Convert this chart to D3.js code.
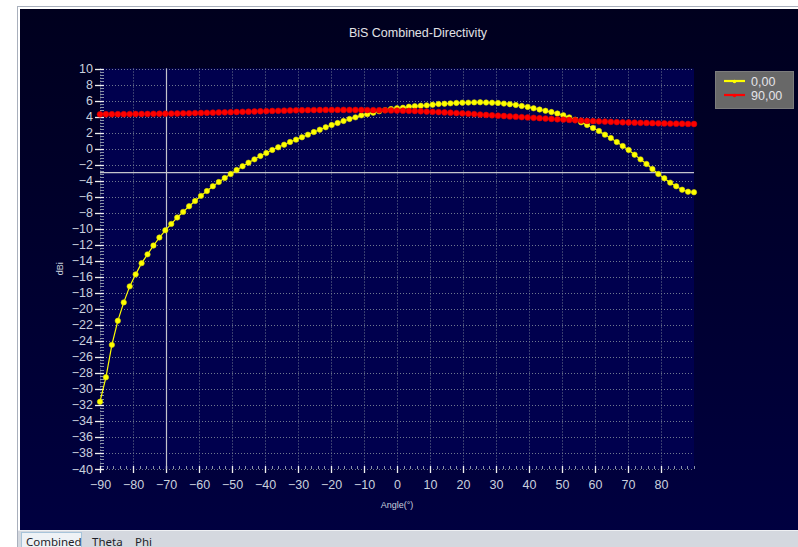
<!DOCTYPE html>
<html>
<head>
<meta charset="utf-8">
<script src="https://cdn.jsdelivr.net/npm/d3@7/dist/d3.min.js"></script>
<style>
  html, body { margin: 0; padding: 0; background: #ffffff; }
  svg { display: block; }
  text { font-family: "Liberation Sans", Arial, sans-serif; }
</style>
</head>
<body>
<svg id="chart" width="798" height="547"></svg>
<script>
// Sample angles (degrees) of the directivity cut
const angles = [-90, -88.2, -86.4, -84.6, -82.8, -81, -79.2, -77.4, -75.6, -73.8, -72, -70.2, -68.4, -66.6, -64.8, -63, -61.2, -59.4, -57.6, -55.8,
  -54, -52.2, -50.4, -48.6, -46.8, -45, -43.2, -41.4, -39.6, -37.8, -36, -34.2, -32.4, -30.6, -28.8, -27, -25.2, -23.4, -21.6, -19.8,
  -18, -16.2, -14.4, -12.6, -10.8, -9, -7.2, -5.4, -3.6, -1.8, 0, 1.8, 3.6, 5.4, 7.2, 9, 10.8, 12.6, 14.4, 16.2,
  18, 19.8, 21.6, 23.4, 25.2, 27, 28.8, 30.6, 32.4, 34.2, 36, 37.8, 39.6, 41.4, 43.2, 45, 46.8, 48.6, 50.4, 52.2,
  54, 55.8, 57.6, 59.4, 61.2, 63, 64.8, 66.6, 68.4, 70.2, 72, 73.8, 75.6, 77.4, 79.2, 81, 82.8, 84.6, 86.4, 88.2, 90];

// Phi = 0,00 cut (dBi)
const phi0 = [-31.6, -28.55, -24.5, -21.5, -19.2, -17.2, -15.7, -14.3, -13.2, -12.1, -11.1, -10.2, -9.4, -8.6, -7.9, -7.2, -6.55, -5.9, -5.3, -4.7,
  -4.17, -3.67, -3.17, -2.67, -2.2, -1.76, -1.34, -0.92, -0.55, -0.17, 0.16, 0.49, 0.83, 1.12, 1.41, 1.74, 2.07, 2.36, 2.66, 2.95,
  3.2, 3.45, 3.7, 3.9, 4.15, 4.3, 4.48, 4.66, 4.8, 4.94, 5.03, 5.1, 5.23, 5.3, 5.35, 5.4, 5.48, 5.57, 5.6, 5.65,
  5.7, 5.73, 5.74, 5.77, 5.78, 5.75, 5.73, 5.7, 5.62, 5.54, 5.45, 5.32, 5.2, 5.03, 4.88, 4.72, 4.56, 4.38, 4.16, 3.9,
  3.6, 3.28, 2.95, 2.57, 2.2, 1.74, 1.32, 0.82, 0.32, -0.17, -0.76, -1.34, -1.92, -2.55, -3.17, -3.7, -4.25, -4.7, -5.13, -5.38, -5.45];

// Phi = 90,00 cut (dBi)
const phi90 = [4.28, 4.29, 4.29, 4.30, 4.30, 4.31, 4.32, 4.32, 4.33, 4.34, 4.35, 4.36, 4.37, 4.38, 4.40, 4.41, 4.43, 4.45, 4.47, 4.49,
  4.51, 4.53, 4.55, 4.57, 4.59, 4.61, 4.63, 4.66, 4.68, 4.70, 4.72, 4.74, 4.76, 4.78, 4.79, 4.80, 4.81, 4.82, 4.83, 4.83,
  4.83, 4.83, 4.83, 4.82, 4.82, 4.81, 4.80, 4.79, 4.78, 4.76, 4.75, 4.73, 4.71, 4.69, 4.66, 4.62, 4.59, 4.56, 4.52, 4.48,
  4.44, 4.40, 4.36, 4.31, 4.25, 4.20, 4.16, 4.11, 4.07, 4.02, 3.98, 3.93, 3.89, 3.84, 3.80, 3.75, 3.71, 3.66, 3.62, 3.58,
  3.54, 3.50, 3.46, 3.43, 3.40, 3.37, 3.34, 3.31, 3.28, 3.26, 3.24, 3.22, 3.20, 3.18, 3.16, 3.14, 3.12, 3.11, 3.10, 3.08, 3.07];

const seriesNames = ["0,00", "90,00"];
const seriesColors = ["#ffff00", "#ff0000"];

const xTicks = [-90, -80, -70, -60, -50, -40, -30, -20, -10, 0, 10, 20, 30, 40, 50, 60, 70, 80];
const yTicks = [10, 8, 6, 4, 2, 0, -2, -4, -6, -8, -10, -12, -14, -16, -18, -20, -22, -24, -26, -28, -30, -32, -34, -36, -38, -40];

// Cursor cross-hair position
const cursorAngle = -70;
const cursorLevel = -3;

const title = "BiS Combined-Directivity";
const tabs = ["Combined", "Theta", "Phi"];

const svg = d3.select("#chart");
const W = 798, H = 547;

// ---- window frame ----
svg.append("rect").attr("x", 0).attr("y", 0).attr("width", W).attr("height", H).attr("fill", "#ffffff");
svg.append("line").attr("x1", 17.5).attr("x2", 17.5).attr("y1", 6).attr("y2", H).attr("stroke", "#a9b0bd");
svg.append("line").attr("x1", 17).attr("x2", W).attr("y1", 6.5).attr("y2", 6.5).attr("stroke", "#a9b0bd");

const defs = svg.append("defs");
const bg = defs.append("linearGradient").attr("id", "panelGrad").attr("x1", 0).attr("y1", 0).attr("x2", 0).attr("y2", 1);
bg.append("stop").attr("offset", "0%").attr("stop-color", "#00001e");
bg.append("stop").attr("offset", "100%").attr("stop-color", "#000040");

svg.append("rect").attr("x", 20).attr("y", 9).attr("width", W - 20).attr("height", 521).attr("fill", "url(#panelGrad)");

// tab strip
svg.append("rect").attr("x", 18).attr("y", 530).attr("width", W - 18).attr("height", 17).attr("fill", "#d4d8df");
svg.append("line").attr("x1", 18).attr("x2", W).attr("y1", 530.5).attr("y2", 530.5).attr("stroke", "#eef0f3");
svg.append("rect").attr("x", 21.5).attr("y", 532.5).attr("width", 60).attr("height", 16)
  .attr("fill", "#eef2f6").attr("stroke", "#a7c4da");
const tabX = [26, 92, 135];
tabs.forEach((t, i) => {
  svg.append("text").attr("x", tabX[i]).attr("y", 545.5).attr("font-size", 11.5)
    .attr("fill", "#1e1e28").style("font-family", "'Noto Sans', 'DejaVu Sans', sans-serif").text(t);
});

// ---- plot ----
const x = d3.scaleLinear().domain([-90, 90]).range([100, 694]);
const y = d3.scaleLinear().domain([-40, 10]).range([469, 68.5]);

svg.append("rect").attr("x", x(-90)).attr("y", y(10)).attr("width", x(90) - x(-90)).attr("height", y(-40) - y(10))
  .attr("fill", "#00004e");

const grid = svg.append("g").attr("stroke", "#6f7890").attr("stroke-width", 1).attr("stroke-dasharray", "1,2");
grid.selectAll("line.h").data(yTicks).join("line")
  .attr("x1", x(-90)).attr("x2", x(90))
  .attr("y1", d => Math.round(y(d)) + 0.5).attr("y2", d => Math.round(y(d)) + 0.5);
grid.selectAll("line.v").data(xTicks).join("line")
  .attr("y1", y(10)).attr("y2", y(-40))
  .attr("x1", d => Math.round(x(d)) + 0.5).attr("x2", d => Math.round(x(d)) + 0.5);

// y axis: major + minor ticks
const yAxis = d3.axisLeft(y).tickValues(yTicks).tickSize(0).tickPadding(7).tickFormat(d3.format("d"));
const gy = svg.append("g").attr("transform", `translate(${x(-90)},0)`).call(yAxis);
gy.select(".domain").remove();
gy.selectAll("text").attr("font-size", 12.5).attr("fill", "#c9d0de").style("font-family", "'Liberation Sans', Arial, sans-serif");
const yMinor = d3.range(-40, 10.001, 0.4);
svg.append("g").selectAll("line").data(yMinor).join("line")
  .attr("x1", x(-90)).attr("x2", x(-90) + 4)
  .attr("y1", d => Math.round(y(d)) + 0.5).attr("y2", d => Math.round(y(d)) + 0.5)
  .attr("stroke", "#8a93a8");
svg.append("g").selectAll("line").data(yTicks).join("line")
  .attr("x1", x(-90) - 5).attr("x2", x(-90) + 4)
  .attr("y1", d => Math.round(y(d)) + 0.5).attr("y2", d => Math.round(y(d)) + 0.5)
  .attr("stroke", "#f0f0f0").attr("stroke-width", 1.3);

// x axis: major + minor ticks
const xAxis = d3.axisBottom(x).tickValues(xTicks).tickSize(0).tickPadding(11).tickFormat(d3.format("d"));
const gx = svg.append("g").attr("transform", `translate(0,${y(-40)})`).call(xAxis);
gx.select(".domain").remove();
gx.selectAll("text").attr("font-size", 12.5).attr("fill", "#c9d0de").style("font-family", "'Liberation Sans', Arial, sans-serif");
const xMinor = d3.range(-90, 90.001, 2);
svg.append("g").selectAll("line").data(xMinor).join("line")
  .attr("y1", y(-40) - 3).attr("y2", y(-40))
  .attr("x1", d => Math.round(x(d)) + 0.5).attr("x2", d => Math.round(x(d)) + 0.5)
  .attr("stroke", "#8a93a8");
svg.append("g").selectAll("line").data(xTicks).join("line")
  .attr("y1", y(-40) - 3).attr("y2", y(-40) + 4)
  .attr("x1", d => Math.round(x(d)) + 0.5).attr("x2", d => Math.round(x(d)) + 0.5)
  .attr("stroke", "#f0f0f0").attr("stroke-width", 1.3);

// axis titles
svg.append("text").attr("x", (x(-90) + x(90)) / 2).attr("y", 508).attr("text-anchor", "middle")
  .attr("font-size", 9).attr("fill", "#c9d0de").text("Angle(°)");
svg.append("text").attr("transform", `translate(63,${(y(10) + y(-40)) / 2}) rotate(-90)`).attr("text-anchor", "middle")
  .attr("font-size", 9).attr("fill", "#c9d0de").text("dBi");

// chart title
svg.append("text").attr("x", 418).attr("y", 37).attr("text-anchor", "middle")
  .attr("font-size", 12.5).attr("fill", "#e2e2e6").text(title);

// cursor cross-hair
svg.append("line").attr("x1", Math.round(x(cursorAngle)) + 0.5).attr("x2", Math.round(x(cursorAngle)) + 0.5)
  .attr("y1", y(10)).attr("y2", y(-40)).attr("stroke", "#c4c4cc").attr("stroke-width", 1.2);
svg.append("line").attr("x1", x(-90)).attr("x2", x(90))
  .attr("y1", y(cursorLevel)).attr("y2", y(cursorLevel)).attr("stroke", "#c4c4cc").attr("stroke-width", 1.2);

// series: yellow (0,00) first, red (90,00) drawn over it
const series = [phi0, phi90];
const line = d3.line().x((d, i) => x(angles[i])).y(d => y(d));
const clipId = "plotClip";
defs.append("clipPath").attr("id", clipId).append("rect")
  .attr("x", x(-90) - 4).attr("y", y(10)).attr("width", x(90) - x(-90) + 8).attr("height", y(-40) - y(10));

[0, 1].forEach(k => {
  const g = svg.append("g").attr("clip-path", `url(#${clipId})`);
  g.append("path").datum(series[k]).attr("d", line).attr("fill", "none")
    .attr("stroke", seriesColors[k]).attr("stroke-width", 1.2);
  g.selectAll("circle").data(series[k]).join("circle")
    .attr("cx", (d, i) => x(angles[i])).attr("cy", d => y(d)).attr("r", k === 1 ? 2.9 : 2.7)
    .attr("fill", seriesColors[k]).attr("stroke", k === 1 ? "#d00000" : "#d8d800").attr("stroke-width", 0.6);
});

// legend
const lg = svg.append("g");
lg.append("rect").attr("x", 715.5).attr("y", 71.5).attr("width", 78).attr("height", 37)
  .attr("fill", "#686868").attr("stroke", "#7c7c7c");
seriesNames.forEach((name, k) => {
  const ly = 81 + k * 14;
  lg.append("line").attr("x1", 724).attr("x2", 745).attr("y1", ly).attr("y2", ly)
    .attr("stroke", seriesColors[k]).attr("stroke-width", 2.2);
  lg.append("circle").attr("cx", 734.5).attr("cy", ly + 0.5).attr("r", 1.8).attr("fill", seriesColors[k]);
  lg.append("text").attr("x", 751).attr("y", ly + 4.5).attr("font-size", 12.5).attr("fill", "#e4e4e8").text(name);
});
</script>
</body>
</html>
